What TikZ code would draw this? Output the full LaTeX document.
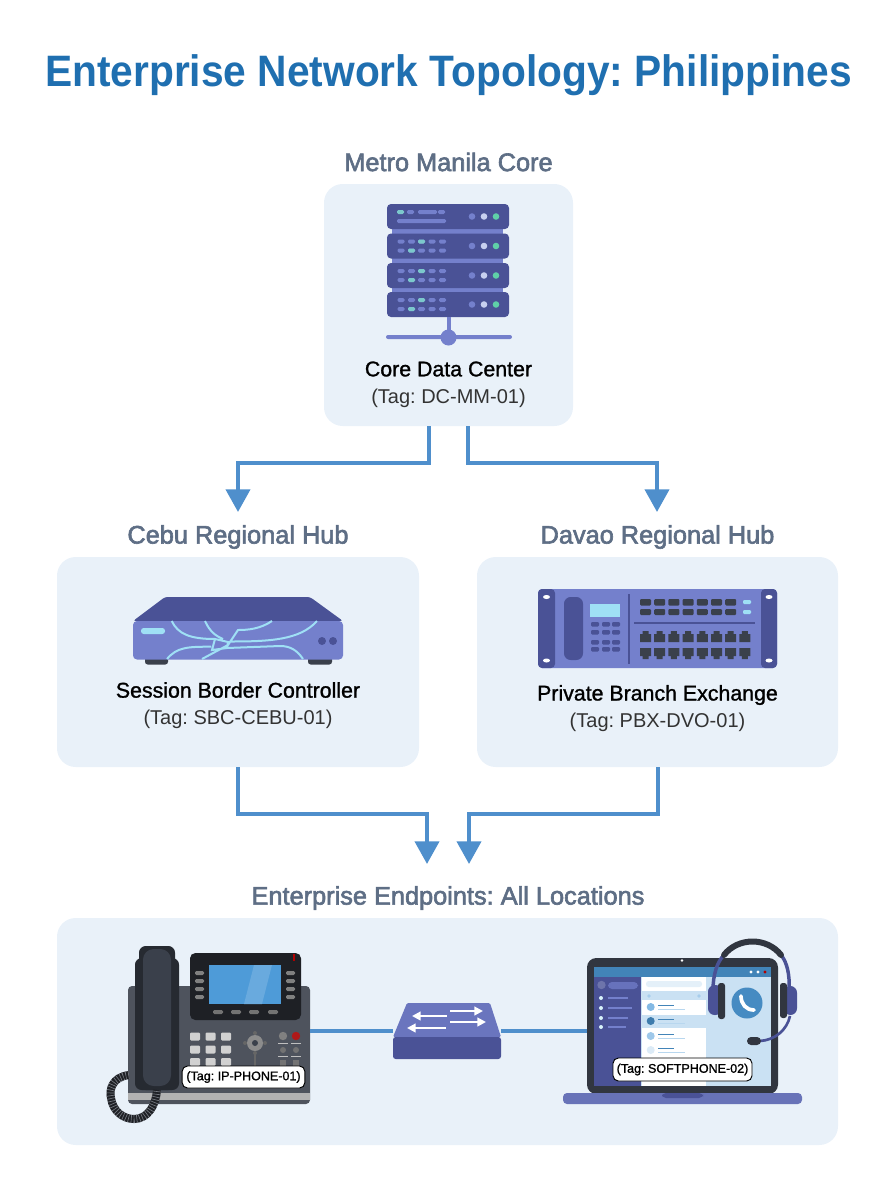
\documentclass[tikz,border=0pt]{standalone}
\usepackage{fontspec}
\setmainfont{Liberation Sans}
\newfontfamily\midfont[FakeBold=1.2]{Liberation Sans}
\newfontfamily\headfont[FakeBold=2.4]{Liberation Sans}
\frenchspacing
\usetikzlibrary{arrows.meta}
\definecolor{titleblue}{HTML}{1F6FB0}
\definecolor{headgray}{HTML}{5E6E85}
\definecolor{regionbg}{HTML}{E9F1F9}
\definecolor{linkblue}{HTML}{4F8FCC}
\definecolor{devdark}{HTML}{4A5296}
\definecolor{devmid}{HTML}{7480CC}
\definecolor{devlight}{HTML}{9FE0F5}
\definecolor{ledgreen}{HTML}{5FD0A8}
\definecolor{ledpale}{HTML}{C8D0F0}
\definecolor{dashteal}{HTML}{7CC8CC}
\definecolor{phonedark}{HTML}{3A404B}
\definecolor{phoneblack}{HTML}{1E2025}
\definecolor{screenblue}{HTML}{4E9BD8}
\tikzset{
  region/.style={fill=regionbg,rounded corners=14pt,inner sep=0pt},
  head/.style={text=headgray,font=\headfont\fontsize{19}{21}\selectfont},
  devname/.style={text=black,font=\midfont\fontsize{16}{18}\selectfont},
  devtag/.style={text=black!80,font=\fontsize{15}{18}\selectfont},
  tagbox/.style={fill=white,draw=black,line width=0.7pt,rounded corners=4pt,inner sep=0pt,font=\midfont\fontsize{9.4}{11}\selectfont},
  devbox/.style={inner sep=0pt},
  link/.style={draw=linkblue,line width=3pt,-{Triangle[length=17pt,width=18pt]}},
  wire/.style={draw=linkblue,line width=3pt},
}
\begin{document}
\begin{tikzpicture}[x=0.75pt,y=-0.75pt]
  \useasboundingbox (0,0) rectangle (896,1200);
  \node[text=titleblue,font=\bfseries\fontsize{33}{36}\selectfont] (title) at (448.5,75) {\scalebox{0.925}[1]{Enterprise Network Topology: Philippines}};

  \node[region,minimum width=186.75pt,minimum height=181.5pt] (core) at (448.5,305) {};
  \node[region,minimum width=271.5pt,minimum height=157.5pt] (cebu) at (238,662) {};
  \node[region,minimum width=270.75pt,minimum height=157.5pt] (davao) at (657.5,662) {};
  \node[region,minimum width=585.75pt,minimum height=170.25pt] (ends) at (447.5,1031.5) {};

  \node[head] (corehead) at (448.5,162) {Metro Manila Core};
  \node[head] (cebuhead) at (238,537) {Cebu Regional Hub};
  \node[head] (davaohead) at (657.5,537) {Davao Regional Hub};
  \node[head] (endshead) at (448,898) {Enterprise Endpoints: All Locations};

  \node[devname] (corename) at (448.5,369) {Core Data Center};
  \node[devtag] (coretag) at (448.5,398) {(Tag: DC-MM-01)};
  \node[devname] (cebuname) at (238,690) {Session Border Controller};
  \node[devtag] (cebutag) at (238,719) {(Tag: SBC-CEBU-01)};
  \node[devname] (davaoname) at (657.5,695) {Private Branch Exchange};
  \node[devtag] (davaotag) at (657.5,722) {(Tag: PBX-DVO-01)};

  \coordinate (coreL) at (429,426);
  \coordinate (coreR) at (468,426);
  \coordinate (cebuIn) at (238,512);
  \coordinate (davaoIn) at (657,512);
  \coordinate (endsL) at (427,864);
  \coordinate (endsR) at (469,864);
  \draw[link] (coreL) -- ++(0,37) -| (cebuIn);
  \draw[link] (coreR) -- ++(0,37) -| (davaoIn);
  \draw[link] (cebu.south) -- ++(0,47) -| (endsL);
  \draw[link] (davao.south) -- ++(0,47) -| (endsR);

  % server rack
  \fill[devmid] (392,225) rectangle (503,296);
  \foreach \y in {204,233.5,263,292}{
    \fill[devdark,rounded corners=3pt] (387,\y) rectangle (509,\y+25);
    \fill[devmid] (472,\y+12.5) circle (3.3);
    \fill[ledpale] (484,\y+12.5) circle (3.3);
    \fill[ledgreen] (496,\y+12.5) circle (3.3);
  }
  \foreach \y in {233.5,263,292}{
    \foreach \x in {397.5,408,418,428.5,439}{
      \fill[devmid,rounded corners=1pt] (\x,\y+6) rectangle (\x+7,\y+10);
      \fill[devmid,rounded corners=1pt] (\x,\y+15) rectangle (\x+7,\y+19);
    }
    \fill[dashteal,rounded corners=1pt] (418,\y+6) rectangle (425,\y+10);
    \fill[dashteal,rounded corners=1pt] (408,\y+15) rectangle (415,\y+19);
  }
  \fill[dashteal,rounded corners=1pt] (397,210) rectangle (404,214);
  \fill[devmid,rounded corners=1pt] (407,210) rectangle (414,214);
  \fill[devmid,rounded corners=1pt] (418,210) rectangle (437,214);
  \fill[devmid,rounded corners=1pt] (438,210) rectangle (445,214);
  \fill[devmid,rounded corners=1pt] (397,219) rectangle (446,223);
  \fill[devmid] (446.5,317) rectangle (450.5,338);
  \fill[devmid,rounded corners=1.5pt] (386,335) rectangle (512,339);
  \fill[devmid] (448.5,337.5) circle (8);

  % session border controller
  \fill[devdark,rounded corners=2pt] (133,621) -- (165,597) -- (310,597) -- (343,621) -- cycle;
  \fill[phonedark,rounded corners=2pt] (145,655) rectangle (168,664.5);
  \fill[phonedark,rounded corners=2pt] (308,655) rectangle (332,664.5);
  \fill[devmid,rounded corners=3pt] (133,621) rectangle (343,659.5);
  \fill[devlight,rounded corners=2pt] (141,628) rectangle (165,634);
  \fill[devdark] (322,641) circle (4) (333,641) circle (4);
  \draw[devlight,line width=1.5pt]
    (171.7,621) .. controls (178,634) and (190,639) .. (215,639)
    (205,621) .. controls (210,632) and (216,636) .. (223,639)
    (215,639) -- (228,642) -- (227,648) -- (212,650) -- cycle
    (272,621) .. controls (260,629) and (248,630) .. (238,630) -- (228,645) -- (202,659)
    (317,621) .. controls (300,640) and (270,641.5) .. (230,641.5)
    (167,659) .. controls (177,647) and (188,646.7) .. (211,646.7)
    (227,648) -- (280,646) .. controls (290,646) and (297,650) .. (303,659);

  % private branch exchange
  \fill[devmid,rounded corners=3pt] (538,589) rectangle (777,668);
  \fill[devdark,rounded corners=3pt] (538,589) rectangle (555,668);
  \fill[devdark,rounded corners=3pt] (761,589) rectangle (777,668);
  \foreach \x in {546.5,769}{
    \fill[white] (\x,597) ellipse (3.5 and 2);
    \fill[white] (\x,660.5) ellipse (3.5 and 2);
  }
  \fill[devdark,rounded corners=5pt] (564,597) rectangle (583,660);
  \fill[devlight] (590,604) rectangle (620,617);
  \foreach \y in {622,630,640,647}{
    \foreach \x in {591,602,612}{
      \fill[devdark,rounded corners=0.8pt] (\x,\y) rectangle (\x+8,\y+4.5);
    }
  }
  \draw[devdark,line width=0.8pt] (629,594) -- (629,664);
  \draw[devdark,line width=0.8pt] (634,623) -- (755,623);
  \foreach \i in {0,...,6}{
    \fill[phonedark,rounded corners=0.8pt] (640+14.2*\i,599) rectangle (651+14.2*\i,605.5);
    \fill[phonedark,rounded corners=0.8pt] (640+14.2*\i,609) rectangle (651+14.2*\i,615);
  }
  \fill[devlight,rounded corners=0.8pt] (743,600) rectangle (751,604);
  \fill[devlight,rounded corners=0.8pt] (743,610) rectangle (751,614);
  \foreach \i in {0,...,7}{
    \fill[phonedark] (640+14.2*\i,642) -- ++(0,-8) -- ++(2.5,0) -- ++(0,-3) -- ++(6,0) -- ++(0,3) -- ++(2.5,0) -- ++(0,8) -- cycle;
    \fill[phonedark] (640+14.2*\i,648) -- ++(0,8) -- ++(2.5,0) -- ++(0,3) -- ++(6,0) -- ++(0,-3) -- ++(2.5,0) -- ++(0,-8) -- cycle;
  }

  % ip phone
  \node[devbox,minimum width=136.5pt,minimum height=88.5pt] (phone) at (219,1045) {};
  \fill[phonedark!90!white,rounded corners=3pt] (128,986) rectangle (310,1104);
  \fill[black!30!white] (128,1093) rectangle (310,1100);
  \fill[phoneblack,rounded corners=4pt] (190,953) rectangle (301,1020);
  \fill[red!70!black] (293,954) rectangle (295,961);
  \fill[screenblue] (209,965) rectangle (281,1004);
  \fill[screenblue!85!white] (244,1004) -- (254,965) -- (272,965) -- (262,1004) -- cycle;
  \foreach \y in {973,981,989,997}{
    \fill[black!50!white,rounded corners=1pt] (195,\y-2) rectangle (204,\y+2);
    \fill[black!50!white,rounded corners=1pt] (286,\y-2) rectangle (295,\y+2);
  }
  \foreach \x in {213,231,249,268}{
    \fill[black!55!white,rounded corners=1pt] (\x,1010) rectangle (\x+10,1014);
  }
  \foreach \x in {195,210.5,226}{
    \foreach \y in {1036.5,1049.5,1062}{
      \fill[black!18!white,rounded corners=0.8pt] (\x-5,\y-4) rectangle (\x+5,\y+4);
    }
  }
  \fill[black!45!white] (255,1043) circle (8);
  \fill[phonedark] (255,1043) circle (3);
  \foreach \x/\y in {255/1033,255/1053,245/1043,265/1043}{
    \fill[black!60!white] (\x,\y) circle (2);
  }
  \draw[black!60!white,line width=1pt] (255,1053) -- (255,1066);
  \fill[black!50!white] (283,1036) circle (4.2);
  \fill[red!65!black!90!white] (296,1036) circle (4.2);
  \foreach \x in {283,296}{
    \draw[black!25!white,line width=0.7pt] (\x-5,1043) -- (\x+5,1043);
    \fill[black!55!white] (\x,1050) circle (3);
    \draw[black!25!white,line width=0.7pt] (\x-5,1056) -- (\x+5,1056);
    \fill[black!55!white] (\x-3,1060) rectangle (\x+3,1066);
  }
  \fill[phonedark!65!black,rounded corners=5pt] (135,958) rectangle (179,1090);
  \fill[phonedark!65!black,rounded corners=5pt] (139,946) rectangle (175,1090);
  \fill[phonedark,rounded corners=8pt] (143,949) rectangle (171,1086);
  \draw[phoneblack,line width=6pt] (129,1075) .. controls (112,1077) and (109,1090) .. (111,1098) .. controls (113,1112) and (124,1119) .. (134,1119) .. controls (148,1119) and (156,1105) .. (157,1090);
  \draw[phonedark!70!white,line width=6pt,dash pattern=on 0.5pt off 1.6pt] (129,1075) .. controls (112,1077) and (109,1090) .. (111,1098) .. controls (113,1112) and (124,1119) .. (134,1119) .. controls (148,1119) and (156,1105) .. (157,1090);
  \node[tagbox,minimum width=92pt,minimum height=16.5pt] (phonetag) at (243.5,1077) {(Tag: IP-PHONE-01)};

  % softphone laptop
  \node[devbox,minimum width=143.25pt,minimum height=101.25pt] (laptop) at (682.5,1025.5) {};
  \fill[phonedark!85!black,rounded corners=7pt] (587,958) rectangle (778,1094);
  \fill[screenblue!30!white] (594,967) rectangle (771,1086);
  \fill[screenblue!85!black] (594,967) rectangle (771,977);
  \fill[devdark] (594,977) rectangle (641,1086);
  \fill[white] (682,960.5) circle (1.3);
  \fill[white] (751,972) circle (1.7) (758,972) circle (1.7);
  \fill[red!70!black] (765,972) circle (1.7);
  \fill[devdark!80!white] (601.5,985) circle (4.2);
  \fill[devmid!70!devdark,rounded corners=3pt] (608,982) rectangle (638,989);
  \foreach \y/\w in {998/20,1008/24,1018/20,1027/18}{
    \fill[devlight!40!white] (601,\y) circle (2);
    \fill[devmid] (608,\y-1) rectangle (608+\w,\y+1);
  }
  \fill[white] (642,977) rectangle (706,1086);
  \fill[screenblue!30!white] (642,991) rectangle (706,1000);
  \fill[screenblue!30!white] (642,1015) rectangle (706,1028);
  \fill[screenblue!15!white,rounded corners=2pt] (646,981) rectangle (702,987);
  \fill[screenblue!50!white] (649,996) circle (1.8) (699,996) circle (1.8);
  \foreach \y/\c in {1007/screenblue!70!white,1021/screenblue!80!black,1036/screenblue!55!white,1050/screenblue!20!white}{
    \fill[\c] (650.7,\y) circle (4);
    \fill[screenblue!85!black] (658,\y-2.2) rectangle (674,\y-1);
    \fill[screenblue!40!white] (658,\y+1.5) rectangle (685,\y+2.5);
  }
  \fill[devmid!90!black,rounded corners=3pt] (563,1093) rectangle (802,1104);
  \fill[devdark,rounded corners=3pt] (662,1093) rectangle (703,1098);
  \fill[screenblue!90!black] (747,1003) circle (15.5);
  \draw[white,line width=2.8pt,line cap=round] (741,996) .. controls (741,1004) and (746,1010) .. (754,1010);
  \draw[devdark,line width=2.6pt] (713,990) .. controls (713,975) and (717,962) .. (724,955);
  \draw[devdark,line width=2.6pt] (781,955) .. controls (787,962) and (790,975) .. (789,990);
  \draw[phonedark!85!black,line width=4.5pt,line cap=round] (724,955) .. controls (738,937) and (767,937) .. (781,955);
  \fill[devdark,rounded corners=5pt] (708,985) rectangle (722,1015);
  \fill[phonedark!85!black,rounded corners=2pt] (718,983) rectangle (725,1019);
  \fill[devdark,rounded corners=5pt] (784,986) rectangle (797,1015);
  \fill[phonedark!85!black,rounded corners=2pt] (780,983) rectangle (787,1018);
  \draw[devdark,line width=2pt] (790,1016) .. controls (787,1030) and (775,1040) .. (760,1041);
  \fill[phonedark!85!black,rounded corners=3pt] (747,1037) rectangle (761,1045);
  \node[tagbox,minimum width=104.25pt,minimum height=17.25pt] (laptoptag) at (682.5,1069.5) {(Tag: SOFTPHONE-02)};

  % network switch
  \node[devbox,minimum width=81pt,minimum height=42pt] (switch) at (447,1031) {};
  \draw[wire] (phone.east |- switch.west) -- (switch.west);
  \draw[wire] (switch.east) -- (switch.east -| laptop.west);
  \fill[devmid!75!devdark,rounded corners=1pt] (407,1003) -- (490,1003) -- (501,1037) -- (393,1037) -- cycle;
  \fill[devdark,rounded corners=2pt] (393,1037) rectangle (501,1059);
  \foreach \a/\b/\y in {447/412/1016,450/483/1011,450/486/1022,446/407/1028}{
    \draw[white,line width=2pt,-{Triangle[length=6.5pt,width=6.5pt]}] (\a,\y) -- (\b,\y);
  }
\end{tikzpicture}
\end{document}
